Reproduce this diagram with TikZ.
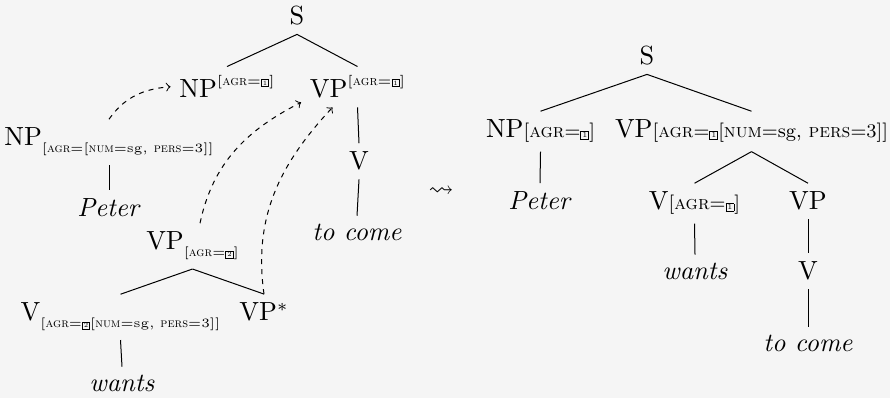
\documentclass[tikz,border=0pt]{standalone}
\usepackage{xcolor}
\usepackage{amssymb}
\usepackage{tikz}
\definecolor{bgc}{HTML}{F5F5F5}
\newcommand{\tg}[2][2.6]{{\setlength{\fboxsep}{0.4pt}\setlength{\fboxrule}{0.35pt}\fbox{\fontsize{#1}{#1}\selectfont #2}}}
\newcommand{\featup}[1]{\raisebox{5pt}{\fontsize{5.4}{6}\selectfont #1}}
\newcommand{\featdn}[1]{\raisebox{-2.8pt}{\fontsize{5.1}{6}\selectfont #1}}
\newcommand{\featin}[1]{{\fontsize{7.7}{9}\selectfont #1}}
\begin{document}
\begin{tikzpicture}
                [x=0.4pt, y=0.4pt, lbl/.style = {anchor=base, font=\fontsize{10.5}{12}\selectfont}, arr/.style = {->, dash pattern=on 2pt off 2pt}]
                \fill[bgc] (0,0) rectangle (890,398);
                \useasboundingbox (0,0) rectangle (890,398);
                % Elementary tree of the verb "to come"
                \node[lbl] (sL) at (297,373) {S};
                \node[lbl] (npA) at (227,300) {NP\featup{[\textsc{agr}=\tg{1}]}};
                \node[lbl] (vpA) at (357.5,300) {VP\featup{[\textsc{agr}=\tg{1}]}};
                \node[lbl] (vL) at (359,228) {V};
                \node[lbl] (tcL) at (357,157) {\textit{to come}};
                % Substituted tree for "Peter"
                \node[lbl] (npL) at (109,252) {NP\featdn{[\textsc{agr}=[\textsc{num}=sg, \textsc{pers}=3]]}};
                \node[lbl] (peL) at (109,181) {\textit{Peter}};
                % Auxiliary tree for "wants"
                \node[lbl] (vpL) at (192.5,148) {VP\featdn{[\textsc{agr}=\tg{2}]}};
                \node[lbl] (vB) at (120.5,77) {V\featdn{[\textsc{agr}=\tg{2}[\textsc{num}=sg, \textsc{pers}=3]]}};
                \node[lbl] (vpS) at (264,77) {VP$^*$};
                \node[lbl] (waL) at (122,6) {\textit{wants}};
                % Derivation step
                \node (lead) at (441,206) {$\rightsquigarrow$};
                % Derived tree
                \node[lbl] (sR) at (647,333) {S};
                \node[lbl] (npR) at (540.5,260) {NP\featin{[\textsc{agr}=\tg[3]{1}]}};
                \node[lbl] (vpR) at (751.5,260) {VP\featin{[\textsc{agr}=\tg[3]{1}[\textsc{num}=sg, \textsc{pers}=3]]}};
                \node[lbl] (peR) at (540,188) {\textit{Peter}};
                \node[lbl] (vR) at (694.5,188) {V\featin{[\textsc{agr}=\tg[3]{1}]}};
                \node[lbl] (vpR2) at (808,188) {VP};
                \node[lbl] (waR) at (695,118) {\textit{wants}};
                \node[lbl] (vR2) at (808,118) {V};
                \node[lbl] (tcR) at (808,46) {\textit{to come}};
                % Lines
                \path[-] (sL.south) edge (npA.north);
                \path[-] (sL.south) edge (vpA.north);
                \path[-] (vpA.south) edge (vL.north);
                \path[-] (vL.south) edge (tcL.north);
                \path[-] (npL.south) edge (peL.north);
                \path[-] (vpL.south) edge (vB.north);
                \path[-] (vpL.south) edge (vpS.north);
                \path[-] (vB.south) edge (waL.north);
                \path[-] (sR.south) edge (npR.north);
                \path[-] (sR.south) edge (vpR.north);
                \path[-] (npR.south) edge (peR.north);
                \path[-] (vpR.south) edge (vR.north);
                \path[-] (vpR.south) edge (vpR2.north);
                \path[-] (vR.south) edge (waR.north);
                \path[-] (vpR2.south) edge (vR2.north);
                \path[-] (vR2.south) edge (tcR.north);
                % Substitution and adjunction
                \path[arr] (npL.north) edge[out=55, in=185] (npA.west);
                \path[arr] ([xshift=3pt]vpL.north) edge[out=78, in=207] ([yshift=2pt]vpA.south west);
                \path[arr] (vpS.north) edge[out=98, in=227] ([xshift=-10pt]vpA.south);
            \end{tikzpicture}
\end{document}
